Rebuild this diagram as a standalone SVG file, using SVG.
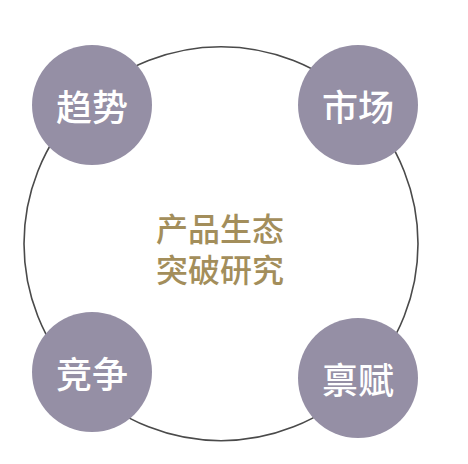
<svg xmlns="http://www.w3.org/2000/svg" width="468" height="464" viewBox="0 0 468 464">
<style>
.node{fill:#958fa5}
.lbl{fill:#ffffff;font-family:"Noto Sans CJK SC","Noto Sans",sans-serif;font-size:36px;font-weight:500;text-anchor:middle;dominant-baseline:central}
.ctr{fill:#a38e5b;font-family:"Noto Sans CJK SC","Noto Sans",sans-serif;font-size:32px;font-weight:500;text-anchor:middle;dominant-baseline:central}
</style>
<rect width="468" height="464" fill="#ffffff"/>
<g id="connectors">
<circle cx="221" cy="243.7" r="197" fill="none" stroke="#4a4a4a" stroke-width="1.6"/>
</g>
<g id="center">
<text class="ctr"><tspan x="220" y="227">产品生态</tspan><tspan x="220" y="268">突破研究</tspan></text>
</g>
<g id="trend">
<circle class="node" cx="92" cy="105" r="60"/>
<text class="lbl" x="92" y="105">趋势</text>
</g>
<g id="market">
<circle class="node" cx="358" cy="105" r="60"/>
<text class="lbl" x="358" y="105">市场</text>
</g>
<g id="competition">
<circle class="node" cx="92" cy="372" r="60"/>
<text class="lbl" x="92" y="372">竞争</text>
</g>
<g id="talent">
<circle class="node" cx="358" cy="378" r="60"/>
<text class="lbl" x="358" y="378">禀赋</text>
</g>
</svg>
